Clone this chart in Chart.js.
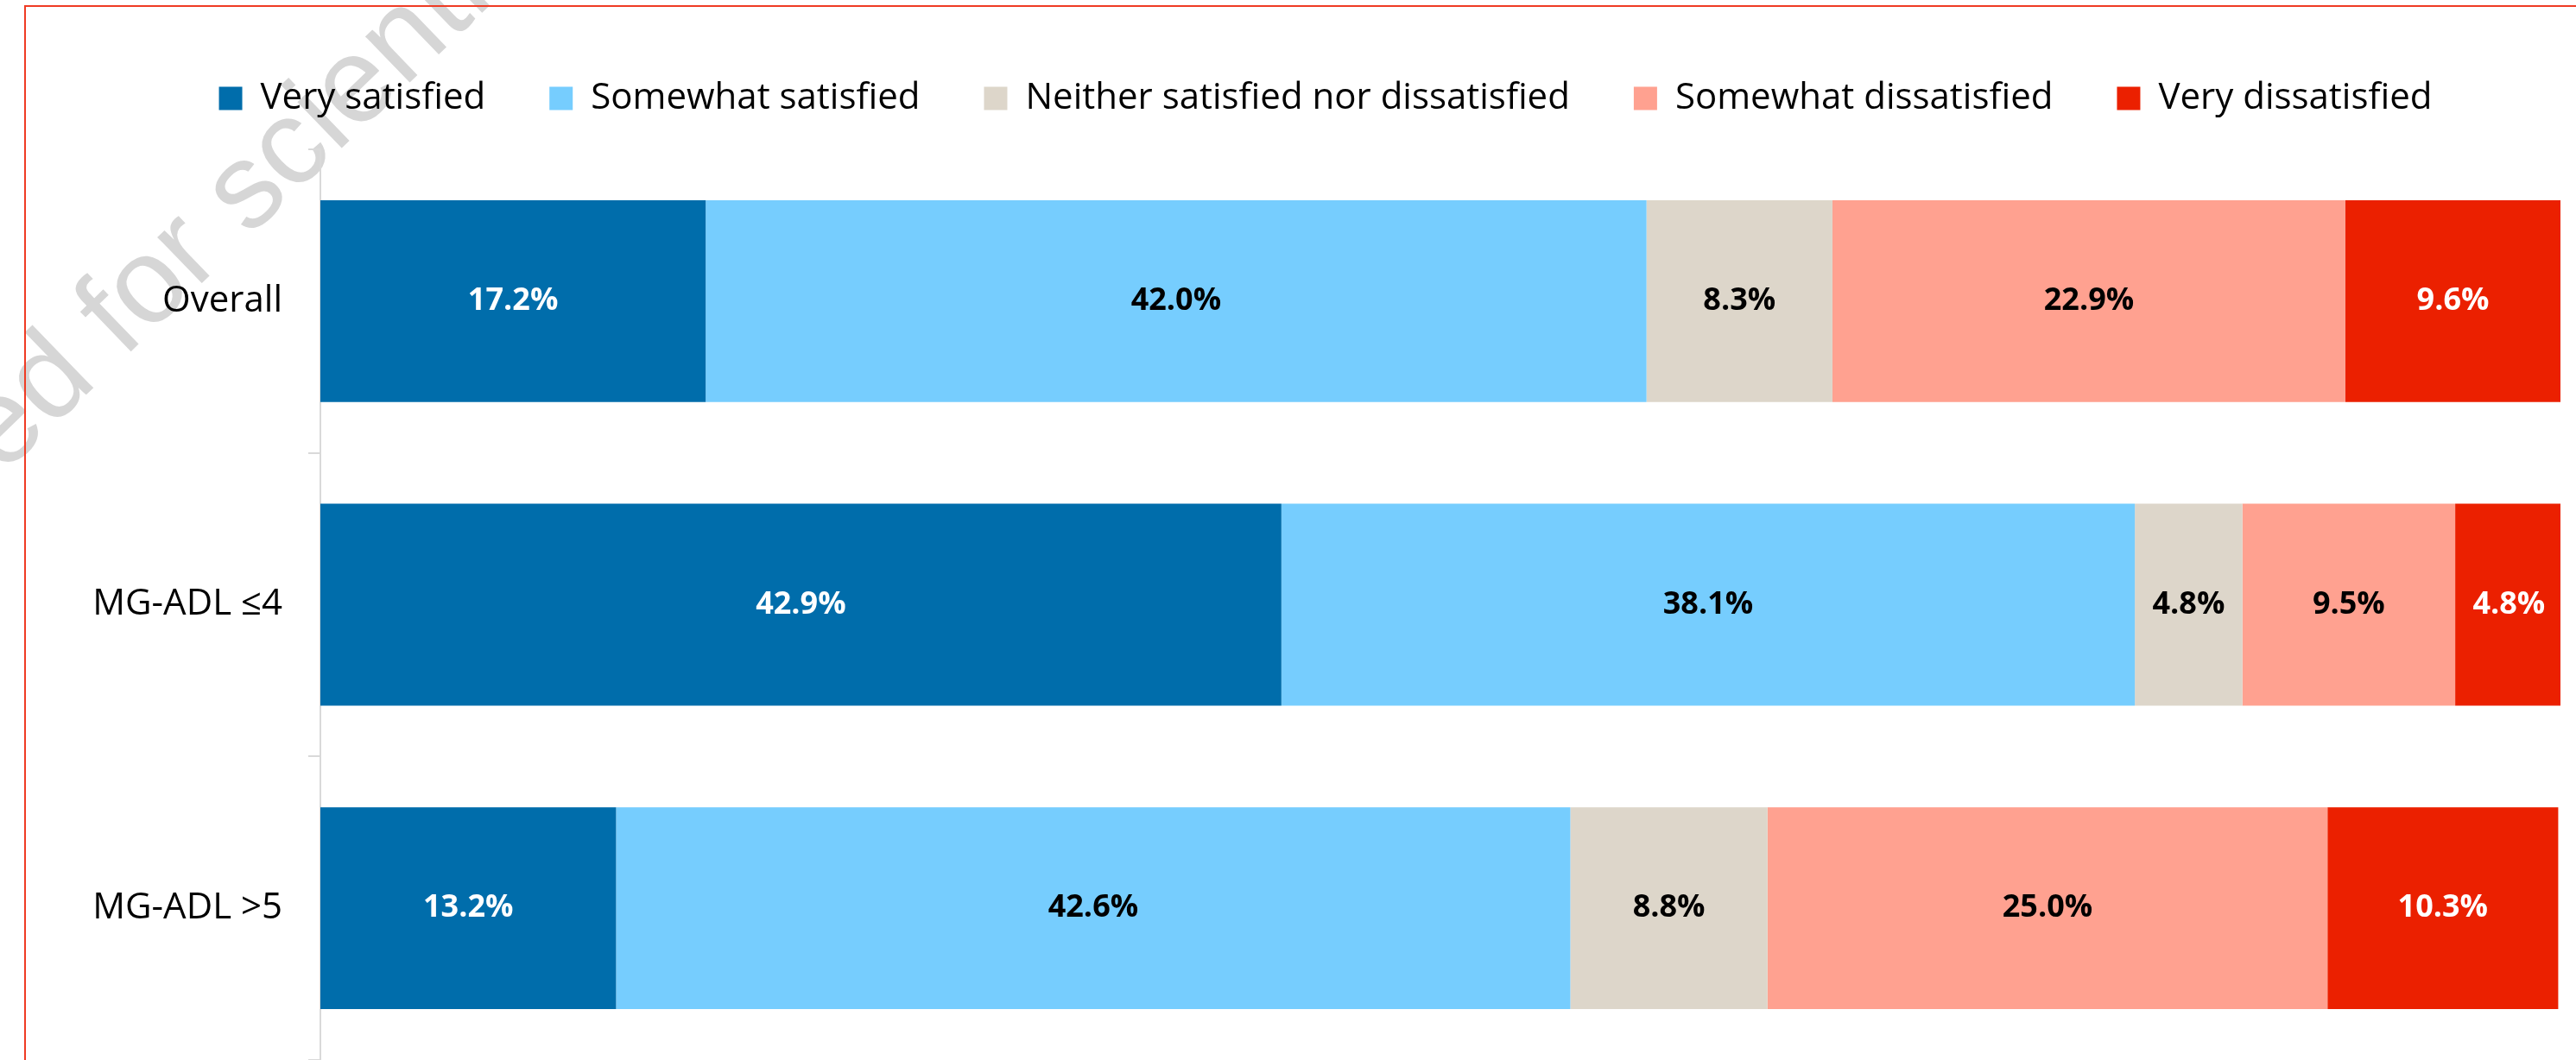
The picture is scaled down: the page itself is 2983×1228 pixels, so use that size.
<!DOCTYPE html>
<html>
<head>
<meta charset="utf-8">
<script src="https://cdn.jsdelivr.net/npm/chart.js@4.4.1/dist/chart.umd.min.js"></script>
<style>
  html, body { margin: 0; padding: 0; background: #fff; overflow: hidden; }
  #wrap { position: relative; width: 2983px; height: 1228px; }
  #frame { position: absolute; left: 28px; top: 6px; width: 3100px; height: 1400px; border: 2px solid #ef3b24; pointer-events: none; }
</style>
</head>
<body>
<div id="wrap">
  <canvas id="satisfaction_canvas"></canvas>
  <div id="frame"></div>
</div>
<script>
// groups (y axis)
const categories = ['Overall', 'MG-ADL ≤4', 'MG-ADL >5'];

// answer shares in %, one array per answer
const verySatisfied = [17.2, 42.9, 13.2];
const somewhatSatisfied = [42.0, 38.1, 42.6];
const neitherNor = [8.3, 4.8, 8.8];
const somewhatDissatisfied = [22.9, 9.5, 25.0];
const veryDissatisfied = [9.6, 4.8, 10.3];

const seriesNames = ['Very satisfied', 'Somewhat satisfied', 'Neither satisfied nor dissatisfied', 'Somewhat dissatisfied', 'Very dissatisfied'];
const seriesColors = ['#006dab', '#76cdfe', '#ddd6ca', '#ffa190', '#eb2000'];
const labelColors = ['#ffffff', '#000000', '#000000', '#000000', '#ffffff'];

const allSeries = [verySatisfied, somewhatSatisfied, neitherNor, somewhatDissatisfied, veryDissatisfied];

// Prozentwerte mittig in jedes Segment schreiben
const barLabels = {
  id: 'barLabels',
  afterDatasetsDraw(chart) {
    const ctx = chart.ctx;
    ctx.save();
    ctx.font = 'bold 36px "Open Sans"';
    ctx.textAlign = 'center';
    ctx.textBaseline = 'middle';
    chart.data.datasets.forEach((ds, i) => {
      const meta = chart.getDatasetMeta(i);
      meta.data.forEach((bar, j) => {
        const p = bar.getCenterPoint();
        ctx.fillStyle = labelColors[i];
        ctx.fillText(ds.data[j].toFixed(1) + '%', p.x, p.y);
      });
    });
    ctx.restore();
  }
};

// grey watermark in the upper left corner
const watermark = {
  id: 'watermark',
  beforeDraw(chart) {
    const ctx = chart.ctx;
    ctx.save();
    ctx.translate(116, 388);
    ctx.rotate(-44 * Math.PI / 180);
    ctx.font = '140px "Liberation Sans"';
    ctx.fillStyle = '#d6d6d6';
    ctx.textAlign = 'right';
    ctx.fillText('Licensed ', 0, 0);
    ctx.textAlign = 'left';
    ctx.fillText('for scientific use', 0, 0);
    ctx.restore();
  }
};

function drawChart() {
  const canvas = document.getElementById('satisfaction_canvas');
  canvas.width = 2983;
  canvas.height = 1228;

  new Chart(canvas, {
    type: 'bar',
    data: {
      labels: categories,
      datasets: allSeries.map((values, i) => ({
        label: seriesNames[i],
        data: values,
        backgroundColor: seriesColors[i],
        borderWidth: 0,
        categoryPercentage: 1,
        barPercentage: 0.665
      }))
    },
    options: {
      indexAxis: 'y',
      responsive: false,
      animation: false,
      devicePixelRatio: 1,
      layout: {
        padding: { top: 19, left: 105, right: 18, bottom: 0 }
      },
      scales: {
        x: {
          stacked: true,
          min: 0,
          max: 100,
          display: false
        },
        y: {
          stacked: true,
          grid: {
            offset: true,
            drawOnChartArea: false,
            drawTicks: true,
            tickLength: 14,
            color: '#d9d9d9',
            lineWidth: 2
          },
          border: { display: true, color: '#d9d9d9', width: 2 },
          ticks: {
            color: '#000',
            padding: 30,
            font: { family: 'Open Sans', size: 42 }
          },
          afterFit(scale) {
            scale.width = 266;
            scale.paddingTop = 0;
            scale.paddingBottom = 0;
          }
        }
      },
      plugins: {
        tooltip: { enabled: false },
        // empty title only used as gap between legend and bars
        title: {
          display: true,
          text: '',
          weight: 500,
          padding: 0,
          font: { size: 28, lineHeight: 1 }
        },
        legend: {
          position: 'top',
          labels: {
            boxWidth: 27,
            boxHeight: 27,
            padding: 74,
            color: '#000',
            font: { family: 'Open Sans', size: 42 }
          }
        }
      }
    },
    plugins: [watermark, barLabels]
  });
}

document.fonts.load('42px "Open Sans"').then(() => document.fonts.load('bold 36px "Open Sans"')).then(drawChart, drawChart);
</script>
</body>
</html>
